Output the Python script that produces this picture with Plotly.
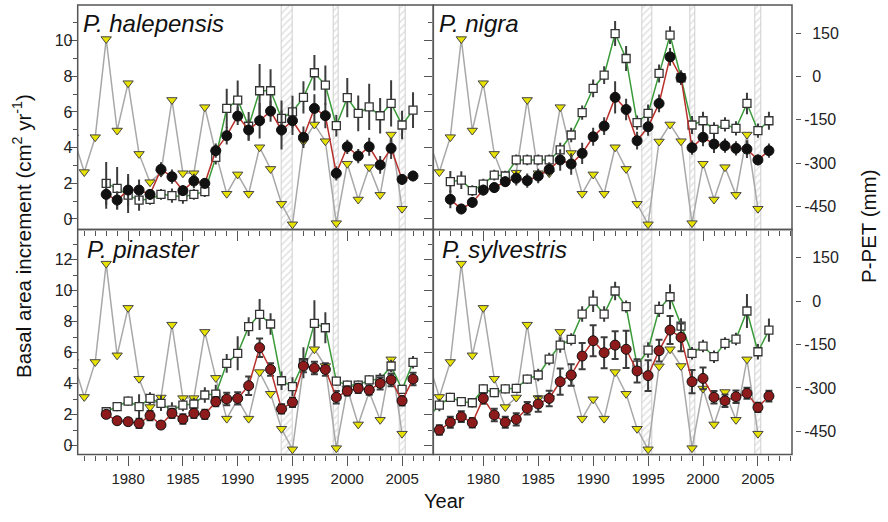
import plotly.graph_objects as go

W, H = 888, 522

# ---------------- data ----------------
PPET_YEARS = list(range(1975, 2006))
PPET = [-210, -331, -210, 130, -187, -23, -268, -366, -333, -81, -335, -335, -106, -265, -406,
        -339, -406, -245, -320, -441, -512, -225, -166, -224, -508, -302, -426, -314, -410, -201, -458]

BANDS_LEFT = [(1994.0, 1995.0), (1998.8, 1999.25), (2004.8, 2005.3)]
BANDS_RIGHT = [(1994.5, 1995.4), (1998.8, 1999.3), (2004.8, 2005.3)]

HAL_YEARS = list(range(1978, 2007))
HAL_CIRC = [1.38, 1.06, 1.62, 1.62, 1.38, 2.78, 2.37, 1.59, 2.13, 2.0, 3.83, 4.67, 5.77, 4.99, 5.51,
            6.05, 4.99, 5.51, 4.58, 6.2, 5.79, 2.56, 4.05, 3.53, 4.05, 3.03, 3.96, 2.22, 2.41]
HAL_CIRC_ERR = [0.8, 0.5, 0.9, 0.6, 0.3, 0.4, 0.4, 0.3, 0.4, 0.3, 0.4, 0.5, 0.5, 0.6, 1.0,
                0.6, 1.1, 0.8, 0.6, 0.8, 0.7, 0.4, 0.4, 0.4, 0.5, 0.5, 0.6, 0.3, 0.3]
HAL_SQ = [2.0, 1.72, 1.34, 1.06, 1.10, 1.38, 1.31, 1.25, 1.38, 1.53, 3.45, 6.2, 6.67, 5.2, 7.19,
          7.19, 5.64, 6.01, 6.82, 8.2, 7.51, 5.23, 6.8, 5.92, 6.29, 5.79, 6.48, 5.27, 6.1]
HAL_SQ_ERR = [1.2, 1.2, 1.0, 0.6, 0.3, 0.3, 0.4, 0.4, 0.3, 0.3, 0.4, 1.1, 1.1, 0.8, 1.5,
              1.2, 1.0, 0.9, 0.9, 1.0, 1.1, 0.6, 1.1, 1.0, 1.3, 1.0, 1.3, 0.8, 1.0]

NIG_YEARS = list(range(1977, 2007))
NIG_CIRC = [1.10, 0.56, 0.93, 1.62, 1.76, 2.09, 2.28, 2.15, 2.41, 2.78, 3.31, 3.08, 3.68, 4.61, 5.21,
            6.82, 6.14, 4.39, 5.17, 6.48, 9.09, 7.92, 4.0, 4.58, 4.2, 4.11, 3.96, 3.92, 3.31, 3.83]
NIG_CIRC_ERR = [0.5, 0.3, 0.3, 0.3, 0.3, 0.3, 0.4, 0.4, 0.4, 0.4, 0.6, 0.6, 0.6, 0.5, 0.5,
                0.9, 0.6, 0.5, 0.5, 0.5, 0.5, 0.4, 0.4, 0.5, 0.5, 0.4, 0.4, 0.5, 0.3, 0.4]
NIG_SQ = [2.09, 2.18, 1.59, 1.96, 2.46, 2.41, 3.31, 3.31, 3.31, 3.31, 3.87, 4.71, 5.96, 7.32, 8.07,
          10.4, 9.0, 5.4, 5.92, 8.16, 10.31, 7.92, 5.27, 5.51, 5.02, 5.3, 5.08, 6.48, 4.95, 5.51]
NIG_SQ_ERR = [0.6, 0.5, 0.3, 0.3, 0.3, 0.3, 0.3, 0.3, 0.3, 0.3, 0.4, 0.4, 0.4, 0.5, 0.5,
              0.7, 0.7, 0.4, 0.5, 0.5, 0.5, 0.4, 0.5, 0.5, 0.4, 0.4, 0.4, 0.6, 0.4, 0.5]

PIN_YEARS = list(range(1978, 2007))
PIN_CIRC = [2.02, 1.61, 1.55, 1.44, 1.94, 1.33, 2.09, 1.72, 2.09, 2.02, 2.84, 3.01, 3.05, 3.87, 6.32,
            4.92, 2.37, 2.8, 5.14, 5.01, 4.92, 3.12, 3.53, 3.7, 3.59, 4.02, 4.24, 2.9, 4.3]
PIN_CIRC_ERR = [0.2, 0.2, 0.2, 0.3, 0.3, 0.2, 0.3, 0.3, 0.3, 0.3, 0.3, 0.4, 0.4, 0.6, 0.6,
                0.4, 0.3, 0.3, 0.4, 0.4, 0.4, 0.4, 0.3, 0.3, 0.3, 0.4, 0.4, 0.3, 0.4]
PIN_SQ = [2.19, 2.52, 2.88, 2.52, 3.05, 2.73, 2.30, 2.62, 2.69, 3.27, 3.33, 5.31, 5.96, 7.68, 8.47,
          7.85, 4.19, 3.81, 5.35, 7.89, 7.61, 4.17, 3.91, 3.91, 4.24, 4.28, 5.14, 3.63, 5.38]
PIN_SQ_ERR = [0.2, 0.3, 0.3, 0.8, 0.4, 0.5, 0.5, 0.4, 0.4, 0.5, 0.6, 0.6, 1.1, 0.6, 1.0,
              0.7, 0.6, 0.6, 1.0, 1.5, 1.0, 0.3, 0.3, 0.3, 0.3, 0.4, 0.4, 0.3, 0.4]

SYL_CIRC_YEARS = list(range(1976, 2007))
SYL_CIRC = [1.01, 1.51, 1.87, 1.48, 3.05, 1.98, 1.51, 1.70, 2.41, 2.69, 3.05, 4.13, 4.56, 5.78, 6.77,
            6.0, 6.49, 6.22, 4.82, 4.52, 6.13, 7.46, 6.99, 4.13, 4.34, 3.12, 2.90, 3.16, 3.38, 2.47, 3.2]
SYL_CIRC_ERR = [0.3, 0.35, 0.35, 0.3, 0.35, 0.4, 0.35, 0.4, 0.4, 0.5, 0.5, 0.85, 0.7, 0.85, 1.0,
                1.0, 0.9, 1.2, 0.75, 1.0, 0.7, 0.9, 0.9, 0.75, 0.7, 0.4, 0.4, 0.4, 0.35, 0.3, 0.35]
SYL_SQ_YEARS = list(range(1975, 2007))
SYL_SQ = [1.83, 2.62, 3.12, 2.84, 2.77, 3.66, 3.42, 3.66, 3.70, 4.30, 4.56, 5.59, 6.49, 6.86, 8.49,
          9.33, 8.49, 9.98, 8.97, 5.2, 6.17, 8.8, 9.61, 7.72, 5.96, 6.43, 5.74, 6.6, 6.88, 8.69, 6.06, 7.46]
SYL_SQ_ERR = [0.3, 0.4, 0.3, 0.3, 0.3, 0.3, 0.3, 0.3, 0.3, 0.3, 0.4, 0.4, 0.5, 0.4, 0.5,
              0.7, 0.5, 0.6, 0.4, 0.4, 0.5, 0.5, 0.8, 0.5, 0.4, 0.4, 0.4, 0.4, 0.4, 1.1, 0.5, 0.75]

PPET_TICKS = [-450, -300, -150, 0, 150]
PPET_TEXT = ["-450", "-300", "-150", "\u20020", "\u2002150"]

# ---------------- layout geometry (pixels) ----------------
FONT = "Liberation Sans, Arial, sans-serif"
FRAME = "#555555"


def fx(p):
    return p / W


def fy(p):
    return 1 - p / H


panels = [
    dict(name="P. halepensis", xpx=(77.7, 433.3), ypx=(5, 229.5), xr=[1975.4, 2007.85], yr=[-0.59, 12.0],
         major=[0, 2, 4, 6, 8, 10], minor=[1, 3, 5, 7, 9, 11], bands=BANDS_LEFT,
         sq=(HAL_YEARS, HAL_SQ, HAL_SQ_ERR), ci=(HAL_YEARS, HAL_CIRC, HAL_CIRC_ERR),
         ccol="#111111", cap=0, left=True, bottom=False, lab=(81, 23)),
    dict(name="P. nigra", xpx=(433.3, 792), ypx=(5, 229.5), xr=[1975.45, 2008.1], yr=[-0.59, 12.0],
         major=[0, 2, 4, 6, 8, 10], minor=[1, 3, 5, 7, 9, 11], bands=BANDS_RIGHT,
         sq=(NIG_YEARS, NIG_SQ, NIG_SQ_ERR), ci=(NIG_YEARS, NIG_CIRC, NIG_CIRC_ERR),
         ccol="#111111", cap=0, left=False, bottom=False, lab=(437, 23)),
    dict(name="P. pinaster", xpx=(77.7, 433.3), ypx=(229.5, 454.5), xr=[1975.4, 2007.85], yr=[-0.57, 13.95],
         major=[0, 2, 4, 6, 8, 10, 12], minor=[1, 3, 5, 7, 9, 11, 13], bands=BANDS_LEFT,
         sq=(PIN_YEARS, PIN_SQ, PIN_SQ_ERR), ci=(PIN_YEARS, PIN_CIRC, PIN_CIRC_ERR),
         ccol="#8e1b1b", cap=3.5, left=True, bottom=True, lab=(85, 249)),
    dict(name="P. sylvestris", xpx=(433.3, 792), ypx=(229.5, 454.5), xr=[1975.45, 2008.1], yr=[-0.57, 13.95],
         major=[0, 2, 4, 6, 8, 10, 12], minor=[1, 3, 5, 7, 9, 11, 13], bands=BANDS_RIGHT,
         sq=(SYL_SQ_YEARS, SYL_SQ, SYL_SQ_ERR), ci=(SYL_CIRC_YEARS, SYL_CIRC, SYL_CIRC_ERR),
         ccol="#8e1b1b", cap=3.5, left=False, bottom=True, lab=(440, 249)),
]

fig = go.Figure()
layout = {}
shapes = []
annotations = []

for i, p in enumerate(panels, start=1):
    xref = "x" if i == 1 else f"x{i}"
    ymain = "y" if i == 1 else f"y{i}"
    ybai = f"y{i + 4}"
    xkey = "xaxis" if i == 1 else f"xaxis{i}"
    ykey = "yaxis" if i == 1 else f"yaxis{i}"
    bkey = f"yaxis{i + 4}"

    xd = [fx(p["xpx"][0]), fx(p["xpx"][1])]
    yd = [fy(p["ypx"][1]), fy(p["ypx"][0])]

    # hatched drought bands
    fig.add_trace(go.Bar(
        x=[(a + b) / 2 for a, b in p["bands"]], width=[b - a for a, b in p["bands"]],
        base=[-560] * len(p["bands"]), y=[850] * len(p["bands"]),
        xaxis=xref, yaxis=ymain, showlegend=False, hoverinfo="skip",
        marker=dict(color="white", line=dict(color="#cfcfcf", width=1),
                    pattern=dict(shape="/", fgcolor="#c4c4c4", bgcolor="white", size=5, solidity=0.3))))

    # P-PET
    fig.add_trace(go.Scatter(
        x=PPET_YEARS, y=PPET, mode="lines+markers", xaxis=xref, yaxis=ymain, showlegend=False,
        line=dict(color="#a8a8a8", width=1.5),
        marker=dict(symbol="triangle-down", size=9, color="#e8e200", line=dict(color="#444444", width=1))))

    # open squares
    sy, sv, se = p["sq"]
    fig.add_trace(go.Scatter(
        x=sy, y=sv, mode="lines+markers", xaxis=xref, yaxis=ybai, showlegend=False,
        line=dict(color="#3a9b3a", width=1.5),
        marker=dict(symbol="square", size=8, color="white", line=dict(color="#333333", width=1.3)),
        error_y=dict(type="data", array=se, color="#3c3c3c", thickness=2, width=0)))

    # filled circles
    cy, cv, ce = p["ci"]
    fig.add_trace(go.Scatter(
        x=cy, y=cv, mode="lines+markers", xaxis=xref, yaxis=ybai, showlegend=False,
        line=dict(color="#b8302b", width=1.5),
        marker=dict(symbol="circle", size=10, color=p["ccol"], line=dict(color="#111111", width=1)),
        error_y=dict(type="data", array=ce, color="#3c3c3c", thickness=2, width=p["cap"])))

    layout[xkey] = dict(
        domain=xd, range=p["xr"], anchor=ymain, tickmode="linear", tick0=1980, dtick=5,
        ticks="outside", ticklen=10, tickwidth=1.3, tickcolor=FRAME,
        showticklabels=p["bottom"], tickfont=dict(family=FONT, size=15, color="#222222"),
        showgrid=False, zeroline=False, showline=False, automargin=False, fixedrange=True,
        minor=dict(tickmode="linear", tick0=1976, dtick=1, ticks="outside", ticklen=5,
                   tickwidth=1.1, tickcolor=FRAME, showgrid=False))

    ymain_cfg = dict(domain=yd, range=[-530, 248], showgrid=False, zeroline=False,
                     automargin=False, fixedrange=True)
    if p["left"]:
        ymain_cfg.update(anchor=xref, visible=False)
    else:
        ymain_cfg.update(anchor="free", position=fx(795), side="right", showline=False,
                         tickmode="array", tickvals=PPET_TICKS, ticktext=PPET_TEXT,
                         ticks="outside", ticklen=5, tickwidth=1.3, tickcolor=FRAME,
                         tickfont=dict(family=FONT, size=16, color="#222222"))
    layout[ykey] = ymain_cfg

    layout[bkey] = dict(
        overlaying=ymain, anchor=xref, side="left", range=p["yr"], tickmode="array",
        tickvals=p["major"], ticks="outside", ticklen=8, tickwidth=1.3, tickcolor=FRAME,
        showticklabels=p["left"], tickfont=dict(family=FONT, size=16, color="#222222"),
        ticklabelstandoff=-7,
        showgrid=False, zeroline=False, showline=False, automargin=False, fixedrange=True,
        minor=dict(tickvals=p["minor"], ticks="outside", ticklen=4, tickwidth=1.1,
                   tickcolor=FRAME, showgrid=False))

    shapes.append(dict(type="rect", xref="paper", yref="paper", x0=xd[0], x1=xd[1], y0=yd[0], y1=yd[1],
                       line=dict(color=FRAME, width=1.5), fillcolor="rgba(0,0,0,0)", layer="above"))

    annotations.append(dict(text=f"<i>{p['name']}</i>", x=fx(p["lab"][0]), y=fy(p["lab"][1]),
                            xref="paper", yref="paper", xanchor="left", yanchor="middle",
                            showarrow=False, font=dict(family=FONT, size=24, color="#111111")))

annotations += [
    dict(text="Basal area increment (cm<sup>2</sup> yr<sup>-1</sup>)", x=fx(22), y=fy(236),
         xref="paper", yref="paper", xanchor="center", yanchor="middle", textangle=-90,
         showarrow=False, font=dict(family=FONT, size=20.5, color="#111111")),
    dict(text="P-PET (mm)", x=fx(868), y=fy(226), xref="paper", yref="paper",
         xanchor="center", yanchor="middle", textangle=-90, showarrow=False,
         font=dict(family=FONT, size=20.5, color="#111111")),
    dict(text="Year", x=fx(444), y=fy(501), xref="paper", yref="paper",
         xanchor="center", yanchor="middle", showarrow=False,
         font=dict(family=FONT, size=20, color="#111111")),
]

fig.update_layout(
    width=W, height=H, margin=dict(l=0, r=0, t=0, b=0, pad=0),
    paper_bgcolor="white", plot_bgcolor="white", showlegend=False,
    bargap=0, shapes=shapes, annotations=annotations, **layout)

fig.write_html("out.html", config={"displayModeBar": False},
               post_script="document.body.style.margin='0px';document.body.style.overflow='hidden';")
